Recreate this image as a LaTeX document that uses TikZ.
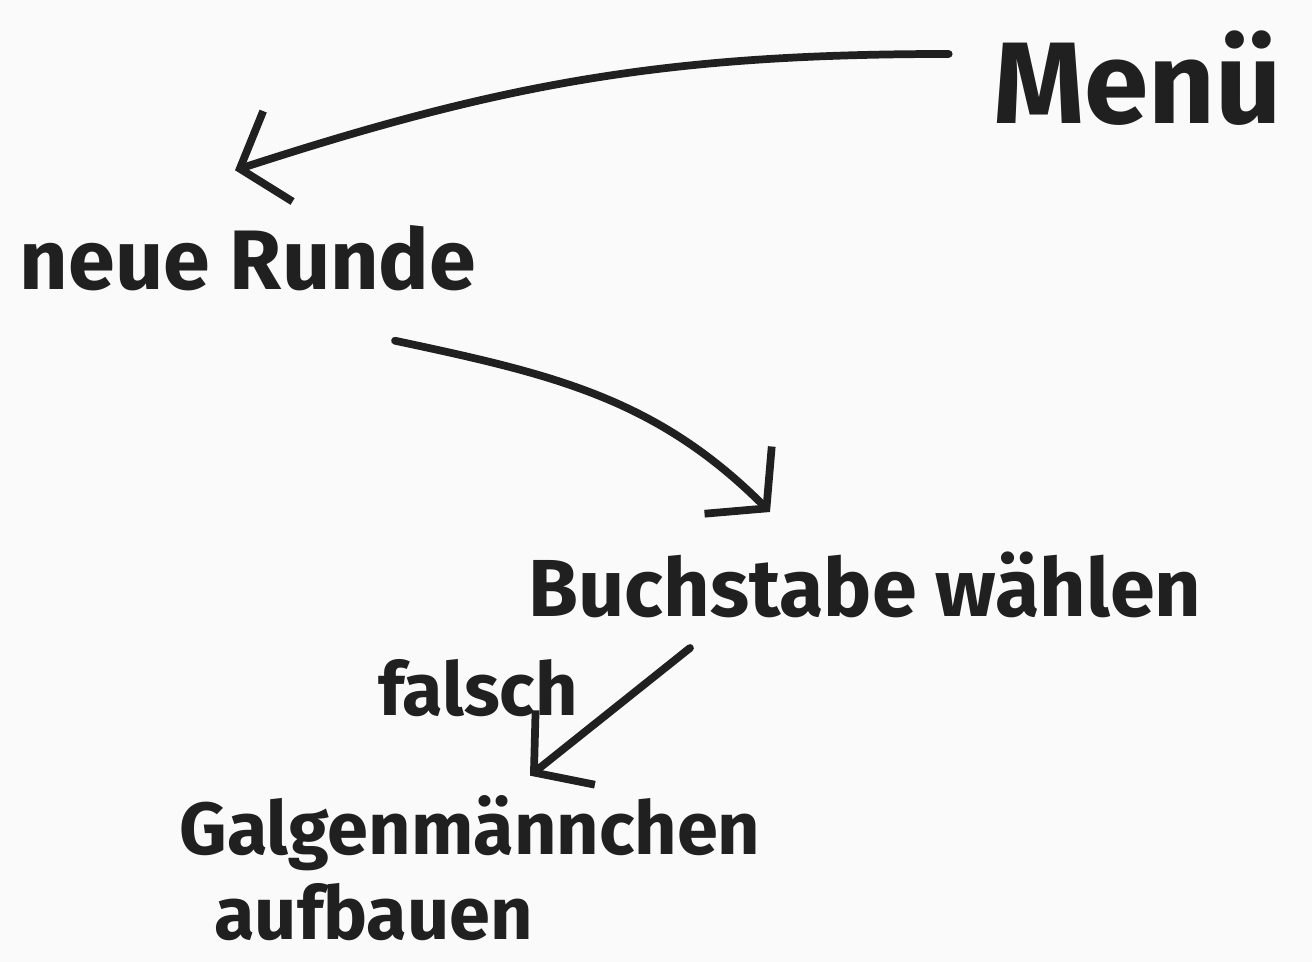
\documentclass[tikz,border=0pt]{standalone}
\usepackage{fontspec}
\setmainfont{Fira Sans}
\usepackage{tikz}
\usetikzlibrary{arrows.meta}
\definecolor{ink}{RGB}{32,32,32}
\definecolor{paper}{RGB}{250,250,250}

\begin{document}
\begin{tikzpicture}[x=0.01cm,y=-0.01cm,every node/.style={inner sep=0pt, outer sep=0pt, text=ink},
  flow/.style={draw=ink, line width=2.2pt, line cap=round, -{Straight Barb[length=0.4cm,width=0.95cm,line width=2.2pt]}}]
\fill[paper] (0,0) rectangle (1312,962);
\node[font=\fontsize{33}{38}\selectfont\bfseries] (menu) at (1138,78) {Menü};
\node[font=\fontsize{24}{28}\selectfont\bfseries] (runde) at (248,258) {neue Runde};
\node[font=\fontsize{23}{27}\selectfont\bfseries] (wahl) at (865,585) {Buchstabe wählen};
\node[font=\fontsize{21}{24}\selectfont\bfseries] (falsch) at (478,688) {falsch};
\node[font=\fontsize{21}{24}\selectfont\bfseries, align=left] (galgen) at (470,868) {Galgenmännchen\\\hspace*{0.35cm}aufbauen};
\draw[flow] ([shift={(-45,-24)}]menu.west) to[out=180,in=18] ([shift={(-13,-55)}]runde.north);
\draw[flow] ([shift={(147,50)}]runde.south) to[out=-12,in=135] ([shift={(-95,-40)}]wahl.north);
\draw[flow] ([shift={(-175,30)}]wahl.south) -- ([shift={(60,-20)}]galgen.north);
\end{tikzpicture}
\end{document}
